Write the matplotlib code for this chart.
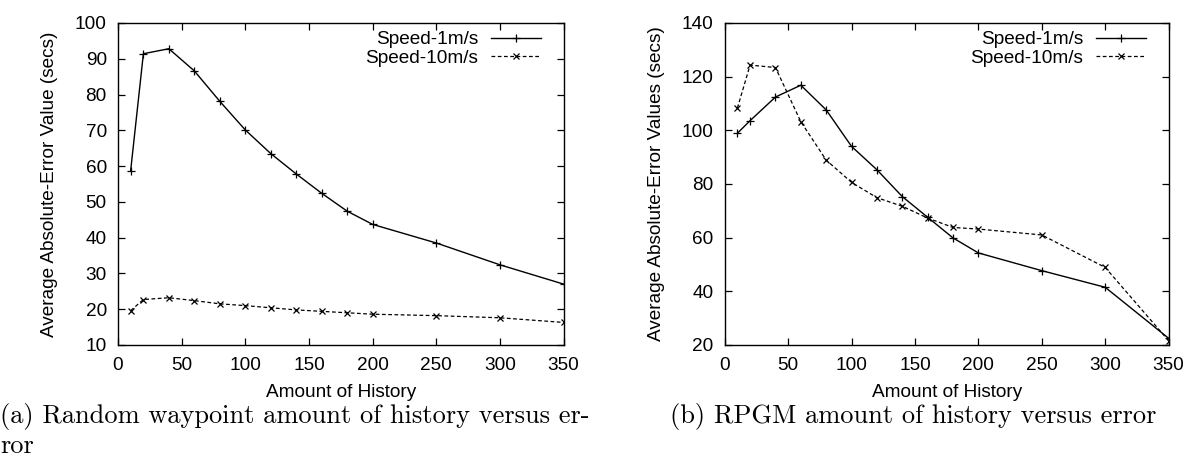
import matplotlib
matplotlib.use("Agg")
import matplotlib.pyplot as plt

plt.rcParams['font.family'] = ['Liberation Sans', 'DejaVu Sans']

# Amount of history (x values shared by both panels)
history = [10, 20, 40, 60, 80, 100, 120, 140, 160, 180, 200, 250, 300, 350]

# (a) Random waypoint
rwp_speed1 = [58.7, 91.4, 92.8, 86.6, 78.1, 70.1, 63.5, 57.8, 52.4, 47.4, 43.7, 38.5, 32.4, 27.0]
rwp_speed10 = [19.6, 22.7, 23.2, 22.4, 21.5, 21.0, 20.4, 19.8, 19.4, 19.0, 18.6, 18.2, 17.6, 16.3]

# (b) RPGM
rpgm_speed1 = [98.9, 103.6, 112.4, 116.8, 107.6, 94.0, 85.3, 75.3, 67.6, 59.9, 54.3, 47.7, 41.5, 22.5]
rpgm_speed10 = [108.3, 124.3, 123.4, 103.2, 88.9, 80.6, 74.9, 71.7, 67.3, 63.8, 63.2, 61.0, 48.9, 21.6]

labels = ["Speed-1m/s", "Speed-10m/s"]

FS = 13.7

fig = plt.figure(figsize=(11.91, 4.63), dpi=100)
ax1 = fig.add_axes([0.0990, 0.2549, 0.3743, 0.6955])
ax2 = fig.add_axes([0.6085, 0.2549, 0.3727, 0.6955])


def draw(ax, s1, s10, ylim, yticks, ylabel):
    ax.plot(history, s1, color='black', lw=1.0, marker='+', ms=6, mew=0.9, label=labels[0])
    ax.plot(history, s10, color='black', lw=0.9, ls=(0, (3, 2)), marker='x', ms=5, mew=0.9,
            label=labels[1])
    ax.set_xlim(0, 350)
    ax.set_ylim(*ylim)
    ax.set_xticks(range(0, 351, 50))
    ax.set_yticks(yticks)
    ax.tick_params(direction='in', top=True, right=True, length=5, width=0.9,
                   labelsize=FS, colors='black')
    ax.tick_params(axis='x', pad=9)
    ax.tick_params(axis='y', pad=8)
    for sp in ax.spines.values():
        sp.set_linewidth(1.0)
    ax.set_xlabel("Amount of History", fontsize=FS, labelpad=7)
    ax.set_ylabel(ylabel, fontsize=FS, labelpad=12)
    ax.legend(loc='upper right', bbox_to_anchor=(0.949, 0.975), frameon=False,
              markerfirst=False, fontsize=FS, handlelength=2.65, handletextpad=0.65,
              borderpad=0, borderaxespad=0, labelspacing=0.05)


draw(ax1, rwp_speed1, rwp_speed10, (10, 100), range(10, 101, 10),
     "Average Absolute-Error Value (secs)")
draw(ax2, rpgm_speed1, rpgm_speed10, (20, 140), range(20, 141, 20),
     "Average Absolute-Error Values (secs)")

cap = dict(family='cmr10', fontsize=19, va='baseline', ha='left')
fig.text(0.0, 1 - 423 / 463, "(a) Random waypoint amount of history versus er-", **cap)
fig.text(0.0, 1 - 453 / 463, "ror", **cap)
fig.text(670 / 1191, 1 - 423 / 463, "(b) RPGM amount of history versus error", **cap)

fig.savefig("out.png", dpi=100)
